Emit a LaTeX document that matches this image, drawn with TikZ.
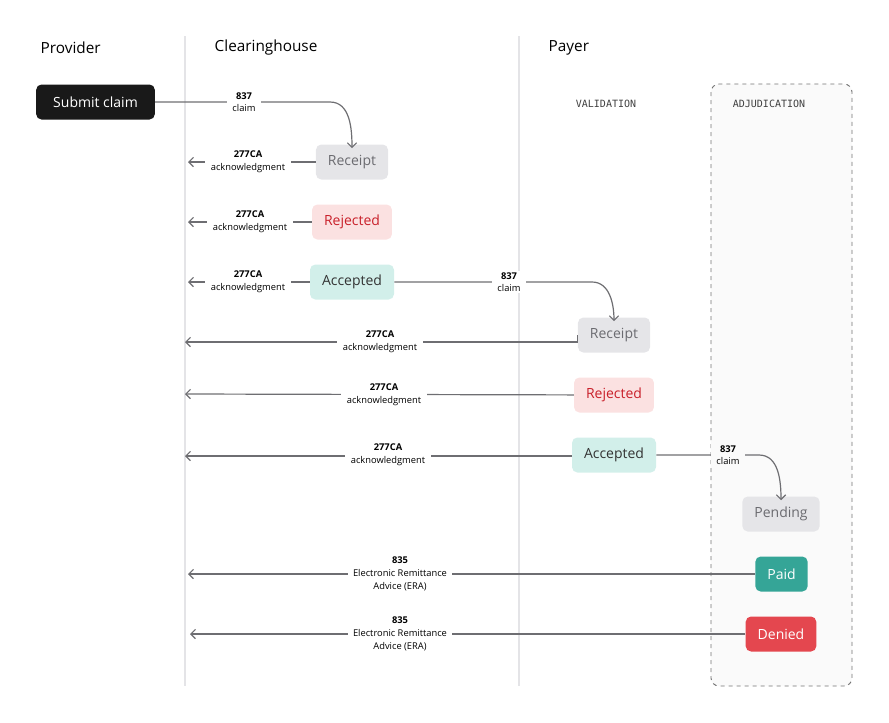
\documentclass[tikz,border=0pt]{standalone}
\usepackage{fontspec}
\setmainfont{Open Sans}
\setmonofont{DejaVu Sans Mono}
\usetikzlibrary{arrows.meta}
\definecolor{linegray}{HTML}{6E6E72}
\definecolor{lanegray}{HTML}{E4E4E7}
\definecolor{graybg}{HTML}{E5E5E8}
\definecolor{graytxt}{HTML}{6B6B70}
\definecolor{redbg}{HTML}{FBE1E1}
\definecolor{redtxt}{HTML}{C9202A}
\definecolor{tealbg}{HTML}{D2EFEA}
\definecolor{paidbg}{HTML}{35A597}
\definecolor{deniedbg}{HTML}{E4474F}
\definecolor{adjbg}{HTML}{FAFAFA}
\tikzset{
  state/.style={rounded corners=4pt,minimum height=26.25pt,inner xsep=9pt,font=\fontsize{10.5}{12}\selectfont},
  receipt/.style={state,fill=graybg,text=graytxt},
  rejected/.style={state,fill=redbg,text=redtxt},
  accepted/.style={state,fill=tealbg,text=black!80},
  lane/.style={font=\fontsize{11.5}{13}\selectfont,anchor=west},
  phase/.style={font=\ttfamily\fontsize{7.5}{9}\selectfont,text=black!75},
  lbl/.style={fill=white,align=center,inner xsep=4pt,inner ysep=1pt,font=\fontsize{7}{9.5}\selectfont},
  flow/.style={draw=linegray,line width=0.9pt,-{Straight Barb[length=3.5pt,width=7pt]}},
  plain/.style={draw=linegray,line width=0.9pt}
}
\begin{document}
\begin{tikzpicture}[x=0.75pt,y=-0.75pt]
\useasboundingbox (0,0) rectangle (889,722);
% lanes
\draw[lanegray,line width=0.8pt] (185,36) -- (185,686);
\draw[lanegray,line width=0.8pt] (519,36) -- (519,686);
\draw[dashed,draw=black!55,fill=adjbg,rounded corners=6pt,line width=0.7pt] (711,84) rectangle (852,686);
\node[lane] (provider) at (36,48) {Provider};
\node[lane] (clearing) at (210,48) {Clearinghouse};
\node[lane] (payer) at (544,48) {Payer};
\node[phase] (valid) at (606,104) {VALIDATION};
\node[phase] (adjud) at (769,104) {ADJUDICATION};

% states
\node[state,fill=black!90,text=white,minimum width=89pt] (submit) at (95.5,102) {Submit claim};
\node[receipt] (rec1) at (352,162) {Receipt};
\node[rejected] (rej1) at (352,222) {Rejected};
\node[accepted] (acc1) at (352,282) {Accepted};
\node[receipt] (rec2) at (614,335) {Receipt};
\node[rejected] (rej2) at (614,395) {Rejected};
\node[accepted] (acc2) at (614,455) {Accepted};
\node[receipt] (pend) at (781,514) {Pending};
\node[state,fill=paidbg,text=white] (paid) at (781.5,574) {Paid};
\node[state,fill=deniedbg,text=white] (denied) at (781,634) {Denied};

% arrow ends
\coordinate (e1) at (188,162);
\coordinate (e2) at (188,222);
\coordinate (e3) at (188,282);
\coordinate (e4) at (185,342);
\coordinate (e5) at (185,394);
\coordinate (e6) at (185,456);
\coordinate (e7) at (188,574);
\coordinate (e8) at (190,634);

% connectors
\draw[flow] (submit) -- (330,102) to[out=0,in=90] ([yshift=-3pt]rec1.north);
\draw[flow] (acc1) -- (592,282) to[out=0,in=90] ([yshift=-3pt]rec2.north);
\draw[flow] (acc2) -- (759,455) to[out=0,in=90] ([yshift=-3pt]pend.north);
\draw[flow] (rec1) -- (e1);
\draw[flow] (rej1) -- (e2);
\draw[flow] (acc1) -- (e3);
\draw[flow] (rec2.west) -- (rec2.west |- e4) -- (e4);
\draw[flow] (rej2) -- (e5);
\draw[flow] (acc2.west) -- (acc2.west |- e6) -- (e6);
\draw[flow] (paid) -- (e7);
\draw[flow] (denied) -- (e8);

% labels
\node[lbl] (l0) at (244,102) {\textbf{837}\\claim};
\node[lbl] (l1) at (248,162) {\textbf{277CA}\\acknowledgment};
\node[lbl] (l2) at (250,222) {\textbf{277CA}\\acknowledgment};
\node[lbl] (l3) at (248,282) {\textbf{277CA}\\acknowledgment};
\node[lbl] (l4) at (509,282) {\textbf{837}\\claim};
\node[lbl] (l5) at (380,342) {\textbf{277CA}\\acknowledgment};
\node[lbl] (l6) at (384,395) {\textbf{277CA}\\acknowledgment};
\node[lbl] (l7) at (388,455) {\textbf{277CA}\\acknowledgment};
\node[lbl,fill=adjbg] (l8) at (728,455) {\textbf{837}\\claim};
\node[lbl] (l9) at (400,574) {\textbf{835}\\Electronic Remittance\\Advice (ERA)};
\node[lbl] (l10) at (400,634) {\textbf{835}\\Electronic Remittance\\Advice (ERA)};
\end{tikzpicture}
\end{document}
